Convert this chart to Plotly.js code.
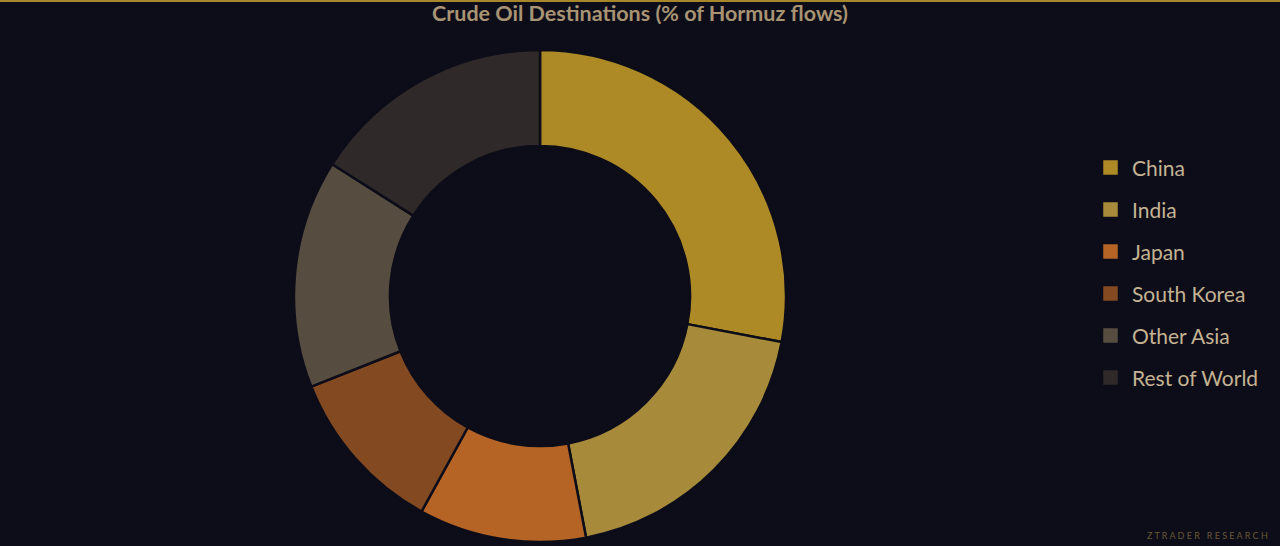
<!DOCTYPE html>
<html>
<head>
<meta charset="utf-8">
<script src="https://cdn.plot.ly/plotly-3.0.1.min.js"></script>
<style>
  html, body { margin: 0; padding: 0; background: #0d0d19; }
  #chart { width: 1280px; height: 546px; }
  #topline { position: absolute; left: 0; top: 0; width: 1280px; height: 2px; background: #a8872a; z-index: 5; }
</style>
</head>
<body>
<div id="topline"></div>
<div id="chart"></div>
<script>
const categories = ["China", "India", "Japan", "South Korea", "Other Asia", "Rest of World"];
const shares = [28, 19, 11, 11, 15, 16];
const sliceColors = ["#ad8a25", "#a78b3a", "#b56426", "#834921", "#574c40", "#2f2a29"];

const trace = {
  type: "pie",
  labels: categories,
  values: shares,
  hole: 0.61,
  sort: false,
  direction: "clockwise",
  rotation: 0,
  textinfo: "none",
  hoverinfo: "label+percent",
  marker: { colors: sliceColors, line: { color: "#0d0d19", width: 2.5 } },
  domain: { x: [0, 0.84375], y: [0, 1] }
};

const layout = {
  width: 1280,
  height: 546,
  paper_bgcolor: "#0d0d19",
  plot_bgcolor: "#0d0d19",
  margin: { l: 0, r: 0, t: 50, b: 4 },
  title: {
    text: "<b>Crude Oil Destinations (% of Hormuz flows)</b>",
    x: 0.5, xanchor: "center", y: 0.9753, yanchor: "middle",
    font: { family: "Lato, 'Open Sans', sans-serif", size: 21.5, color: "#a89472" }
  },
  showlegend: true,
  legend: {
    x: 0.858, xanchor: "left", y: 0.55, yanchor: "middle",
    font: { family: "Lato, 'Open Sans', sans-serif", size: 21, color: "#c4b393" },
    bgcolor: "rgba(0,0,0,0)"
  },
  annotations: [{
    text: "Z T R A D E R   R E S E A R C H",
    xref: "paper", yref: "paper", x: 0.992, y: -0.002, xanchor: "right", yanchor: "bottom",
    showarrow: false,
    font: { family: "Lato, sans-serif", size: 9, color: "#665834" }
  }]
};

const gd = document.getElementById("chart");

function fixLegend() {
  const sb = gd.querySelector(".legend .scrollbox");
  if (sb) sb.removeAttribute("clip-path");
  const traces = gd.querySelectorAll(".legend .traces");
  traces.forEach(function (t) {
    const sym = t.querySelector(".legendpoints path");
    if (sym) sym.setAttribute("d", "M8.5,8.5H-8.5V-8.5H8.5Z");
    const txt = t.querySelector("text.legendtext");
    if (txt) txt.setAttribute("x", "41.5");
  });
  traces.forEach(function (t, i) {
    const sym = t.querySelector(".legendpoints path");
    if (!sym) return;
    const r = sym.getBoundingClientRect();
    const cy = r.top + r.height / 2, cx = r.left + r.width / 2;
    const targetY = 167.5 + i * 42, targetX = 1110.5;
    const m = (t.getAttribute("transform") || "translate(0,0)").match(/translate\(\s*([-\d.e]+)[,\s]*([-\d.e]+)?\s*\)/);
    const tx = parseFloat(m ? m[1] : 0) + (targetX - cx);
    const ty = parseFloat(m && m[2] ? m[2] : 0) + (targetY - cy);
    t.setAttribute("transform", "translate(" + tx + "," + ty + ")");
  });
}

Plotly.newPlot(gd, [trace], layout, { displayModeBar: false }).then(fixLegend);
</script>
</body>
</html>
